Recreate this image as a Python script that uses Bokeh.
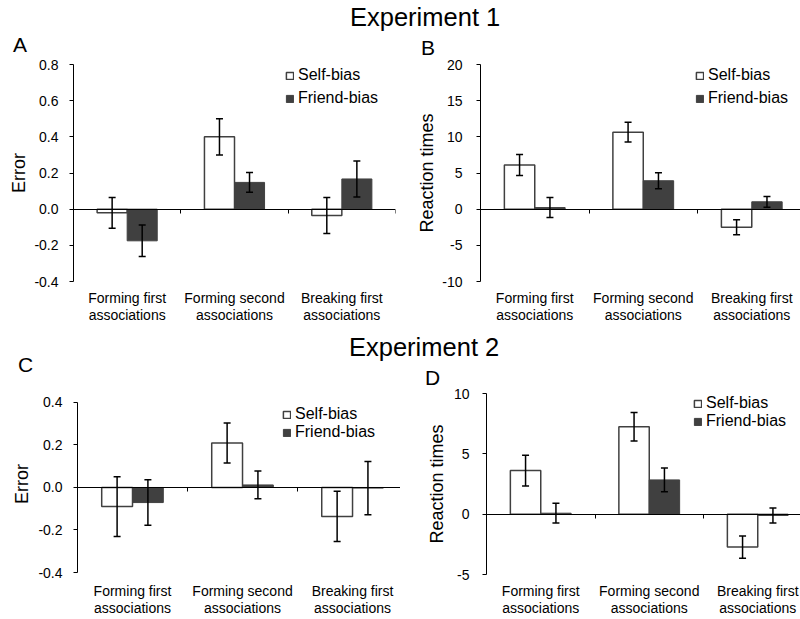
import numpy as np
from bokeh.plotting import figure
from bokeh.models import (ColumnDataSource, Whisker, TeeHead, Legend, LegendItem,
                          LinearAxis, FixedTicker, Range1d, Div, PrintfTickFormatter)
from bokeh.layouts import column, row
from bokeh.embed import file_html
from bokeh.resources import INLINE

# ---------------- data ----------------
categories = ["Forming first\nassociations", "Forming second\nassociations", "Breaking first\nassociations"]
series_names = ["Self-bias", "Friend-bias"]
experiment_titles = ["Experiment 1", "Experiment 2"]
panel_letters = ["A", "B", "C", "D"]

exp1_error_self = [-0.02, 0.40, -0.035]
exp1_error_self_se = [0.085, 0.10, 0.10]
exp1_error_friend = [-0.175, 0.148, 0.167]
exp1_error_friend_se = [0.087, 0.055, 0.10]

exp1_rt_self = [6.1, 10.65, -2.5]
exp1_rt_self_se = [1.45, 1.35, 1.05]
exp1_rt_friend = [0.22, 3.93, 1.02]
exp1_rt_friend_se = [1.38, 1.10, 0.74]

exp2_error_self = [-0.09, 0.209, -0.136]
exp2_error_self_se = [0.141, 0.094, 0.118]
exp2_error_friend = [-0.071, 0.012, -0.003]
exp2_error_friend_se = [0.107, 0.065, 0.125]

exp2_rt_self = [3.61, 7.24, -2.73]
exp2_rt_self_se = [1.27, 1.18, 0.92]
exp2_rt_friend = [0.08, 2.84, -0.11]
exp2_rt_friend_se = [0.82, 0.99, 0.63]

yticks_error1 = [-0.4, -0.2, 0.0, 0.2, 0.4, 0.6, 0.8]
yticks_rt1 = [-10, -5, 0, 5, 10, 15, 20]
yticks_error2 = [-0.4, -0.2, 0.0, 0.2, 0.4]
yticks_rt2 = [-5, 0, 5, 10]

FONT = "Liberation Sans"
DARK = "#404040"
BAR_W = 0.28


def panel(s_vals, s_se, f_vals, f_se, yticks, fmt, ylabel, width, height, borders,
          x_end, y_pad, legend_xy, legend_pitch, y_standoffs):
    bl, br, bt, bb = borders
    frame_h = height - bt - bb
    lo_t, hi_t = yticks[0], yticks[-1]
    # y_pad: pixels of frame above the top tick and below the bottom tick
    ppu = (frame_h - y_pad[0] - y_pad[1]) / (hi_t - lo_t)
    p = figure(width=width, height=height, x_range=Range1d(0, x_end),
               y_range=Range1d(lo_t - y_pad[1] / ppu, hi_t + y_pad[0] / ppu),
               output_backend="svg", toolbar_location=None,
               min_border_left=bl, min_border_right=br,
               min_border_top=bt, min_border_bottom=bb)
    p.grid.visible = False
    p.outline_line_color = None

    idx = np.arange(len(categories))
    xs = idx + 0.5 - BAR_W / 2
    xf = idx + 0.5 + BAR_W / 2
    s = np.array(s_vals); se = np.array(s_se)
    f = np.array(f_vals); fe = np.array(f_se)
    src_s = ColumnDataSource(dict(x=xs, top=s, lo=s - se, hi=s + se))
    src_f = ColumnDataSource(dict(x=xf, top=f, lo=f - fe, hi=f + fe))

    r_s = p.vbar(x="x", top="top", bottom=0, width=BAR_W, source=src_s,
                 fill_color="white", line_color=DARK, line_width=1.5)
    r_f = p.vbar(x="x", top="top", bottom=0, width=BAR_W, source=src_f,
                 fill_color=DARK, line_color=DARK, line_width=1)

    for src in (src_s, src_f):
        w = Whisker(source=src, base="x", upper="hi", lower="lo", dimension="height",
                    line_color="black", line_width=1.5, level="overlay",
                    upper_head=TeeHead(size=7, line_color="black", line_width=1.5),
                    lower_head=TeeHead(size=7, line_color="black", line_width=1.5))
        p.add_layout(w)

    # y axis
    ya = p.yaxis[0]
    ya.ticker = FixedTicker(ticks=yticks)
    ya.bounds = (lo_t, hi_t)
    ya.formatter = PrintfTickFormatter(format=fmt)
    ya.axis_label = ylabel
    ya.axis_label_text_font = FONT
    ya.axis_label_text_font_size = "18px"
    ya.axis_label_text_font_style = "normal"
    ya.axis_label_text_color = "black"
    ya.axis_label_standoff = y_standoffs[1]
    ya.major_label_text_font = FONT
    ya.major_label_text_font_size = "14px"
    ya.major_label_text_color = "black"
    ya.major_label_standoff = y_standoffs[0]
    ya.axis_line_color = "black"
    ya.major_tick_line_color = "black"
    ya.major_tick_out = 4
    ya.major_tick_in = 0
    ya.minor_tick_out = 0
    ya.minor_tick_in = 0

    # category labels axis
    xa = p.xaxis[0]
    centers = [float(i) + 0.5 for i in idx]
    xa.ticker = FixedTicker(ticks=centers)
    xa.major_label_overrides = {c: lab for c, lab in zip(centers, categories)}
    xa.axis_line_color = None
    xa.major_tick_line_color = None
    xa.minor_tick_line_color = None
    xa.major_tick_out = 0
    xa.major_tick_in = 0
    xa.major_label_text_font = FONT
    xa.major_label_text_font_size = "14px"
    xa.major_label_text_line_height = 1.07
    xa.major_label_text_color = "black"
    xa.major_label_standoff = 8

    # zero line with category separators
    za = LinearAxis(fixed_location=0, ticker=FixedTicker(ticks=[1.0, 2.0, 3.0]),
                    major_label_text_font_size="0px", major_label_standoff=0,
                    major_label_overrides={1.0: "", 2.0: "", 3.0: ""},
                    axis_line_color="black", major_tick_line_color="black",
                    major_tick_out=4, major_tick_in=0, minor_tick_out=0, minor_tick_in=0)
    p.add_layout(za, "below")

    legend = Legend(items=[LegendItem(label=series_names[0], renderers=[r_s]),
                           LegendItem(label=series_names[1], renderers=[r_f])],
                    location=legend_xy, glyph_width=9, glyph_height=9, label_standoff=4,
                    label_text_font=FONT, label_text_font_size="16px", label_text_color="black",
                    label_height=legend_pitch[0], spacing=legend_pitch[1], padding=0, margin=0,
                    border_line_color=None, background_fill_alpha=0)
    p.add_layout(legend)
    return p


# Row 1: page y 56..330, frames 64..281
pA = panel(exp1_error_self, exp1_error_self_se, exp1_error_friend, exp1_error_friend_se,
           yticks_error1, "%.1f", "Error", 400, 274, (73, 5, 8, 49), 3.0, (0, 0),
           (212, 173), (20, 3), (11, 2))
pB = panel(exp1_rt_self, exp1_rt_self_se, exp1_rt_friend, exp1_rt_friend_se,
           yticks_rt1, "%d", "Reaction times", 400, 274, (80, 0, 8, 49), 2.949, (0, 0),
           (215, 173), (20, 3), (14, 2))
# Row 2: page y 385..618, frames 393..575
pC = panel(exp2_error_self, exp2_error_self_se, exp2_error_friend, exp2_error_friend_se,
           yticks_error2, "%.1f", "Error", 400, 233, (77, 0, 8, 43), 2.936, (9, 2),
           (205, 133), (18, 0), (11, 3))
pD = panel(exp2_rt_self, exp2_rt_self_se, exp2_rt_friend, exp2_rt_friend_se,
           yticks_rt2, "%d", "Reaction times", 400, 233, (86, 0, 8, 43), 2.894, (0, 0),
           (207, 144), (18, 0), (13, 4))


def header(height, items):
    spans = "".join(
        '<span style="position:absolute;left:%.1fpx;top:%.1fpx;font-size:%.1fpx;'
        'line-height:%.1fpx;white-space:nowrap;">%s</span>' % (x, base - 0.8465 * fs, fs, fs, t)
        for t, x, base, fs in items)
    html = ('<div style="position:relative;width:800px;height:%dpx;color:black;'
            'font-family:\'Liberation Sans\',Arial,sans-serif;">%s</div>' % (height, spans))
    return Div(text=html, width=800, height=height, margin=0)


head1 = header(56, [(experiment_titles[0], 350, 27, 25.5),
                    (panel_letters[0], 13, 52, 21),
                    (panel_letters[1], 421, 55, 21)])
head2 = header(55, [(experiment_titles[1], 349, 27, 25.5),
                    (panel_letters[2], 18, 42, 21),
                    (panel_letters[3], 425, 55, 21)])

layout = column(head1, row(pA, pB, spacing=0), head2, row(pC, pD, spacing=0), spacing=0)

open("out.html", "w").write(file_html(layout, INLINE))
